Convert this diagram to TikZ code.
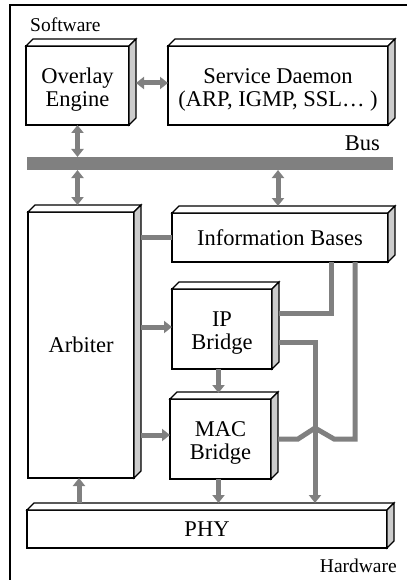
\documentclass[tikz,border=0pt]{standalone}
\usepackage{fontspec}
\setmainfont{Liberation Serif}
\usetikzlibrary{arrows.meta,calc}
\definecolor{linkgray}{HTML}{808080}
\definecolor{facegray}{HTML}{CCCCCC}
% top and right faces of a block, giving it depth
\newcommand\solidfaces[1]{%
  \filldraw[boxline,fill=white] (#1.north west) -- ++(7,-7) -- ($(#1.north east)+(7,-7)$) -- (#1.north east) -- cycle;
  \filldraw[boxline,fill=facegray] (#1.north east) -- ++(7,-7) -- ($(#1.south east)+(7,-7)$) -- (#1.south east) -- cycle;}
\begin{document}
\begin{tikzpicture}[x=1pt,y=-1pt,
  boxline/.style={draw=black,line width=1.2pt},
  block/.style={boxline,fill=white,rectangle,inner sep=0pt,outer sep=0pt,align=center,
    font=\fontsize{22.5}{23}\selectfont},
  twoline/.style={text height=46pt},
  conn/.style={draw=linkgray,line width=5pt},
  arr/.style={conn,-{Triangle[width=12pt,length=8pt]}},
  dbl/.style={conn,{Triangle[width=12pt,length=8pt]}-{Triangle[width=12pt,length=8pt]}},
  tag/.style={font=\fontsize{19.5}{20}\selectfont,inner sep=0pt}]
\useasboundingbox (0,0) rectangle (407,580);

% frame
\draw[line width=1.3pt] (10,580) -- (10,5) -- (407,5);
\node[tag,anchor=base west] (sw) at (30,32) {Software};
\node[tag,anchor=base east] (hw) at (397,572) {Hardware};

% blocks
\node[block,twoline,minimum width=103pt,minimum height=79pt] (ov) at (77.5,85.5) {Overlay\\Engine};
\node[block,twoline,minimum width=220pt,minimum height=79pt] (sd) at (278,85.5) {Service Daemon\\(ARP, IGMP, SSL… )};
\node[block,minimum width=106pt,minimum height=266pt] (arb) at (81,345) {Arbiter};
\node[block,minimum width=216pt,minimum height=49pt] (info) at (280,237.5) {Information Bases};
\node[block,twoline,minimum width=100pt,minimum height=80pt] (ip) at (222,329) {IP\\Bridge};
\node[block,twoline,minimum width=101pt,minimum height=80pt] (mac) at (220.5,439) {MAC\\Bridge};
\node[block,minimum width=360pt,minimum height=38pt] (phy) at (207,529) {PHY};
\foreach \b in {ov,sd,arb,info,ip,mac,phy}{\solidfaces{\b}}

% bus
\node[fill=linkgray,inner sep=0pt,outer sep=0pt,minimum width=366pt,minimum height=13pt] (bus) at (210,163.5) {};
\node[anchor=base east,inner sep=0pt,font=\fontsize{22.5}{23}\selectfont] (buslbl) at (380,150) {Bus};

% connectors
\draw[dbl] ([xshift=7pt,yshift=2.5pt]ov.east) -- ([yshift=2.5pt]sd.west);
\draw[dbl] (ov.south) -- (ov.south |- bus.north);
\draw[dbl] (ov.south |- bus.south) -- ([yshift=7pt]ov.south |- arb.north);
\draw[dbl] (sd.south |- bus.south) -- ([yshift=7pt]sd.south |- info.north);
\draw[conn] (info.west) -- ([xshift=7pt]arb.east |- info.west);
\draw[arr] ([xshift=7pt,yshift=2pt]arb.east |- ip.west) -- ([yshift=2pt]ip.west);
\draw[arr] ([xshift=7pt,yshift=4pt]arb.east |- mac.west) -- ([yshift=4pt]mac.west);
\draw[arr] ([xshift=-2pt]mac.north |- ip.south) -- ([xshift=-2pt,yshift=6pt]mac.north);
\draw[arr] ([xshift=-2pt]mac.south) -- ([xshift=-2pt,yshift=7pt]mac.south |- phy.north);
\draw[arr] ([xshift=-2pt,yshift=7pt]arb.south |- phy.north) -- ([xshift=-2pt]arb.south);
\draw[conn] ([xshift=51pt]info.south) |- ([xshift=7pt,yshift=16pt]ip.east);
\draw[conn] ([xshift=7pt]mac.east) -- ++(20,0) -- ++(17,-11) -- ++(19,11) -| ([xshift=75pt]info.south);
\draw[arr] ([xshift=7pt,yshift=-13pt]ip.east) -| ([xshift=108pt,yshift=7pt]phy.north);
\end{tikzpicture}
\end{document}
